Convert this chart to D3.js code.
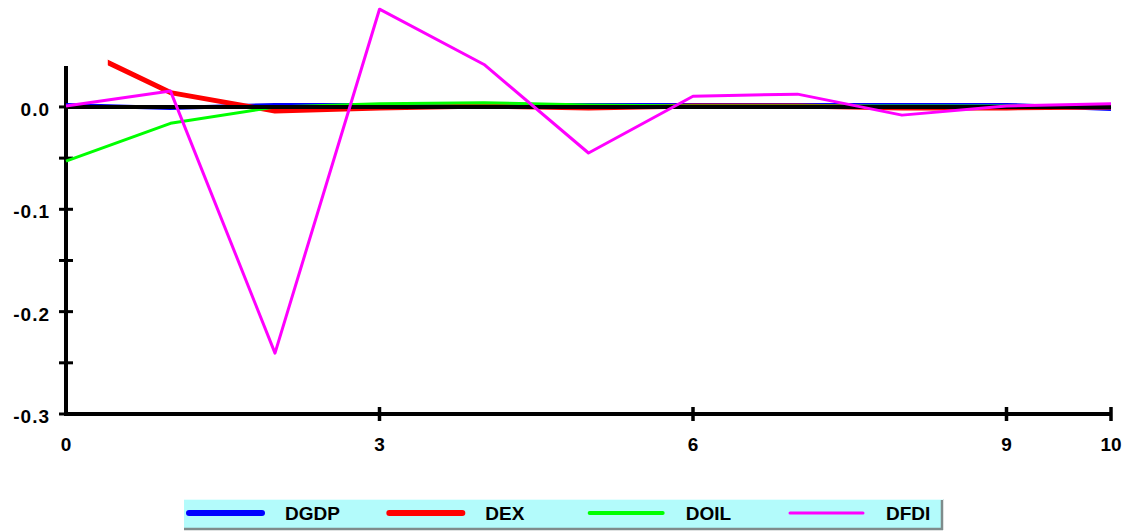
<!DOCTYPE html>
<html>
<head>
<meta charset="utf-8">
<script src="https://cdn.jsdelivr.net/npm/d3@7"></script>
<style>
  html, body { margin: 0; padding: 0; background: #ffffff; }
  svg { display: block; }
  text { font-family: "Liberation Sans", Arial, sans-serif; font-weight: bold; fill: #000; }
</style>
</head>
<body>
<svg id="chart" width="1129" height="531"></svg>
<script>
// ---- data ----
const periods = [0, 1, 2, 3, 4, 5, 6, 7, 8, 9, 10];
const DGDP = [0.002, -0.001, 0.002, 0.002, 0.002, 0.002, 0.002, 0.002, 0.002, 0.002, -0.002];
const DEX  = [0.063, 0.014, -0.004, -0.001, 0.001, -0.001, 0.001, 0.001, -0.001, -0.001, 0.0];
const DOIL = [-0.053, -0.016, 0.0, 0.003, 0.004, 0.002, 0.001, 0.001, 0.001, 0.001, 0.0];
const DFDI = [0.001, 0.0155, -0.2405, 0.0955, 0.0415, -0.045, 0.0105, 0.0125, -0.008, 0.001, 0.003];
const seriesNames = ["DGDP", "DEX", "DOIL", "DFDI"];
const xTickValues = [0, 3, 6, 9, 10];
const yMajorTicks = [0.0, -0.1, -0.2, -0.3];
const yMinorTicks = [-0.05, -0.15, -0.25];
const yTopValue = 0.04;
const dexVisibleFrom = 0.4;

// ---- styles ----
const colors = { DGDP: "#0000ff", DEX: "#ff0000", DOIL: "#00ff00", DFDI: "#ff00ff" };
const widths = { DGDP: 4, DEX: 5, DOIL: 3, DFDI: 3 };
const legendWidths = { DGDP: 6, DEX: 6, DOIL: 4, DFDI: 3 };
const dataMap = { DGDP, DEX, DOIL, DFDI };

const svg = d3.select("#chart");
const x = d3.scaleLinear().domain([0, 10]).range([66, 1111]);
const y = d3.scaleLinear().domain([-0.3, yTopValue]).range([414, 66]);

// clip for DEX (its first segment is cut off at the left)
svg.append("defs").append("clipPath").attr("id", "dexclip")
  .append("rect")
  .attr("x", x(dexVisibleFrom)).attr("y", 0)
  .attr("width", x(10) - x(dexVisibleFrom) + 10).attr("height", 531);

const line = d3.line().x((d, i) => x(periods[i])).y(d => y(d));

// axes
const axisG = svg.append("g");
axisG.append("line")
  .attr("x1", x(0)).attr("x2", x(0))
  .attr("y1", y(yTopValue)).attr("y2", y(-0.3) + 2)
  .attr("stroke", "#000").attr("stroke-width", 4);
axisG.append("line")
  .attr("x1", x(0) - 2).attr("x2", x(10))
  .attr("y1", y(-0.3)).attr("y2", y(-0.3))
  .attr("stroke", "#000").attr("stroke-width", 4);

// y ticks
axisG.selectAll(".ytick").data(yMajorTicks.concat(yMinorTicks)).enter().append("line")
  .attr("x1", x(0) - 7).attr("x2", x(0) + 7)
  .attr("y1", d => y(d)).attr("y2", d => y(d))
  .attr("stroke", "#000").attr("stroke-width", 3);
axisG.selectAll(".ylab").data(yMajorTicks).enter().append("text")
  .attr("x", 50).attr("y", d => y(d) + 9)
  .attr("text-anchor", "end")
  .style("font-size", "19px").style("letter-spacing", "1px")
  .text(d => d3.format(".1f")(d).replace("−", "-"));

// x ticks
axisG.selectAll(".xtick").data(xTickValues.filter(v => v !== 0)).enter().append("line")
  .attr("x1", d => x(d)).attr("x2", d => x(d))
  .attr("y1", y(-0.3) - 7).attr("y2", y(-0.3) + 7)
  .attr("stroke", "#000").attr("stroke-width", 3.5);
axisG.selectAll(".xlab").data(xTickValues).enter().append("text")
  .attr("x", d => x(d)).attr("y", 451)
  .attr("text-anchor", "middle")
  .style("font-size", "19px")
  .text(d => d3.format("d")(d));

// series lines (beneath zero line)
["DGDP", "DEX", "DOIL"].forEach(name => {
  const p = svg.append("path")
    .datum(dataMap[name])
    .attr("d", line)
    .attr("fill", "none")
    .attr("stroke", colors[name])
    .attr("stroke-width", widths[name])
    .attr("stroke-linejoin", "round");
  if (name === "DEX") p.attr("clip-path", "url(#dexclip)");
});

// zero line
svg.append("line")
  .attr("x1", x(0)).attr("x2", x(10))
  .attr("y1", y(0)).attr("y2", y(0))
  .attr("stroke", "#000").attr("stroke-width", 4);

// DFDI on top
svg.append("path")
  .datum(DFDI)
  .attr("d", line)
  .attr("fill", "none")
  .attr("stroke", colors.DFDI)
  .attr("stroke-width", widths.DFDI)
  .attr("stroke-linejoin", "round");

// legend
const lg = svg.append("g");
const lx0 = 184, ly0 = 499, lw = 759, lh = 31;
lg.append("rect").attr("x", lx0).attr("y", ly0).attr("width", lw).attr("height", lh)
  .attr("fill", "#b3fbfb");
lg.append("line").attr("x1", lx0).attr("x2", lx0 + lw).attr("y1", ly0 + lh - 1).attr("y2", ly0 + lh - 1)
  .attr("stroke", "#7f8c8c").attr("stroke-width", 2.5);
lg.append("line").attr("x1", lx0 + lw - 1).attr("x2", lx0 + lw - 1).attr("y1", ly0).attr("y2", ly0 + lh)
  .attr("stroke", "#7f8c8c").attr("stroke-width", 2.5);
lg.append("line").attr("x1", lx0).attr("x2", lx0 + lw).attr("y1", ly0 + 0.5).attr("y2", ly0 + 0.5)
  .attr("stroke", "#e6ffff").attr("stroke-width", 1);

const itemX = d3.scalePoint().domain(seriesNames).range([187, 788]);
seriesNames.forEach(name => {
  const sx = itemX(name);
  lg.append("line")
    .attr("x1", sx + 2).attr("x2", sx + 75)
    .attr("y1", 513).attr("y2", 513)
    .attr("stroke", colors[name]).attr("stroke-width", legendWidths[name])
    .attr("stroke-linecap", "round");
  lg.append("text")
    .attr("x", sx + 98).attr("y", 520)
    .style("font-size", "19px")
    .text(name);
});
</script>
</body>
</html>
